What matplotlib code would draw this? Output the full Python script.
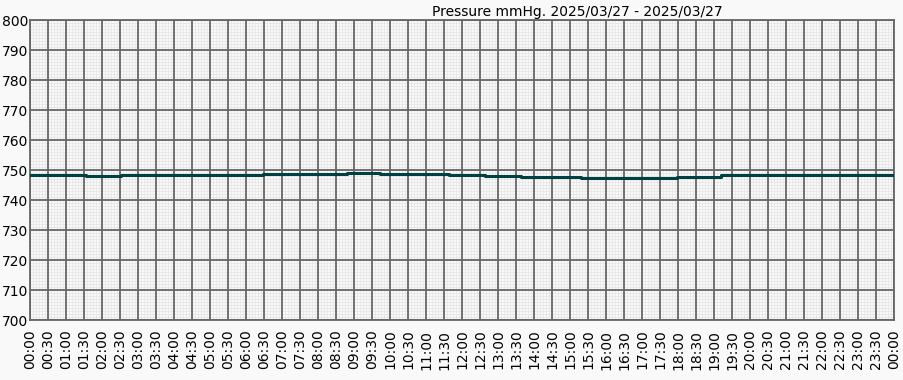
import numpy as np
import matplotlib
matplotlib.use("Agg")
import matplotlib.pyplot as plt
from matplotlib.ticker import MultipleLocator, FuncFormatter, NullLocator

# readings (time of change, pressure in mmHg), drawn as steps
times = ["00:00", "01:33", "02:32", "06:28", "08:48", "09:43", "11:38",
         "12:38", "13:38", "15:18", "17:58", "19:12", "23:18", "23:56"]
pressure = [748.4, 748.1, 748.5, 748.8, 749.1, 748.8, 748.4,
            748.1, 747.8, 747.4, 747.8, 748.2, 748.5, 748.5]

title = "Pressure mmHg. 2025/03/27 - 2025/03/27"

hours = [int(t[:2]) + int(t[3:]) / 60 for t in times]

bg = "#f9f9f9"
rect = [30 / 904, 60 / 380, 864 / 904, 300 / 380]
fig = plt.figure(figsize=(9.04, 3.80), dpi=100, facecolor=bg)

# fine grid on its own axes underneath (5 min x 1 mmHg)
bg_ax = fig.add_axes(rect)
bg_ax.set_facecolor(bg)
bg_ax.set_xlim(0, 24)
bg_ax.set_ylim(700, 800)
bg_ax.xaxis.set_major_locator(MultipleLocator(1 / 12))
bg_ax.yaxis.set_major_locator(MultipleLocator(1))
bg_ax.grid(color="#e6e6e6", lw=0.6)
bg_ax.tick_params(length=0, labelbottom=False, labelleft=False)
for s in bg_ax.spines.values():
    s.set_visible(False)

ax = fig.add_axes(rect)
ax.patch.set_alpha(0)
ax.step(hours, pressure, where="post", color="#004040", lw=2.2, zorder=3)

ax.set_xlim(0, 24)
ax.set_ylim(700, 800)
ax.xaxis.set_major_locator(MultipleLocator(0.5))
ax.yaxis.set_major_locator(MultipleLocator(10))


def fmt(x, pos):
    m = int(round(x * 60)) % (24 * 60)
    return "%02d:%02d" % (m // 60, m % 60)


ax.xaxis.set_major_formatter(FuncFormatter(fmt))
plt.setp(ax.get_xticklabels(), rotation=90)

ax.grid(color="#666666", lw=1.3)
ax.set_axisbelow(True)
ax.tick_params(length=0)
ax.tick_params(axis="x", pad=7, labelsize=10)
ax.tick_params(axis="y", pad=1.5, labelsize=10)
for s in ax.spines.values():
    s.set_color("#666666")
    s.set_linewidth(1.3)

fig.text(432 / 904, 1 - 16 / 380, title, fontsize=10, ha="left", va="baseline")

fig.savefig("out.png", dpi=100, facecolor=bg)
